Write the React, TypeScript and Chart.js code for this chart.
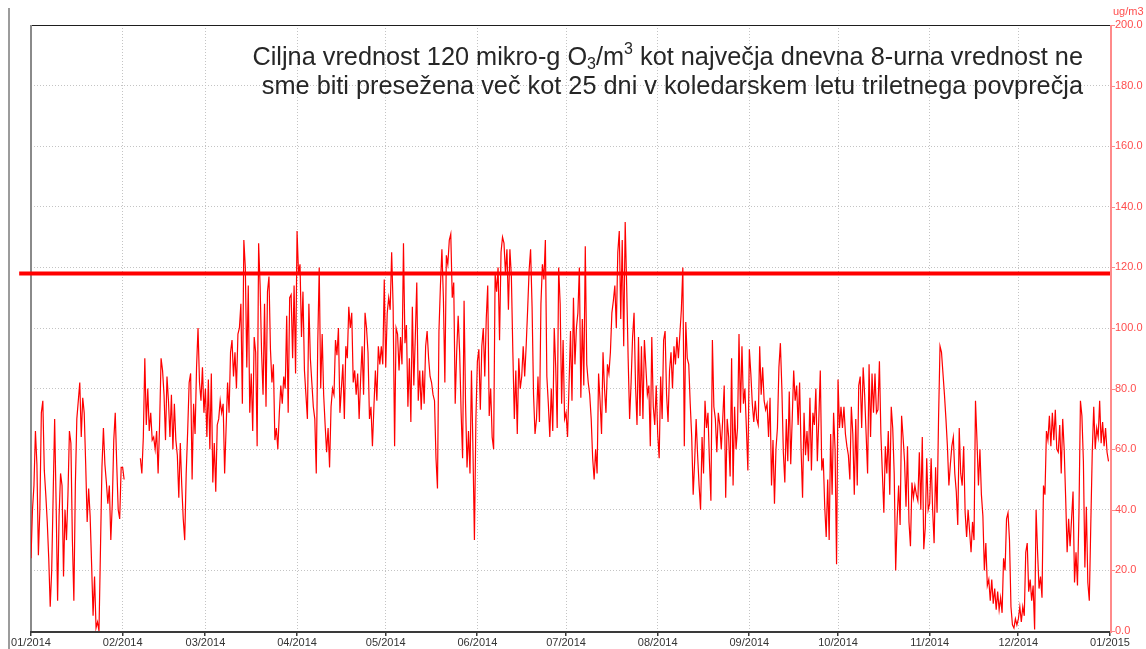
import React, { useEffect, useRef } from 'react';
import { Chart, registerables } from 'chart.js';

Chart.register(...registerables);

// ---- Axis / label data ----
const monthLabels = ['01/2014', '02/2014', '03/2014', '04/2014', '05/2014', '06/2014', '07/2014', '08/2014', '09/2014', '10/2014', '11/2014', '12/2014', '01/2015'];
const monthStartDays = [0, 31, 59, 90, 120, 151, 181, 212, 243, 273, 304, 334, 365];
const yMin = 0;
const yMax = 200;
const yStep = 20;
const unitLabel = 'ug/m3';
const targetValue = 118;
const targetSpanDays = [-4, 365];

const titleLine1 = [
  { t: 'Ciljna vrednost 120 mikro-g O', k: 'n' },
  { t: '3', k: 'sub' },
  { t: '/m', k: 'n' },
  { t: '3', k: 'sup' },
  { t: ' kot največja dnevna 8-urna vrednost ne', k: 'n' },
];
const titleLine2 = [{ t: 'sme biti presežena več kot 25 dni v koledarskem letu triletnega povprečja', k: 'n' }];

// ---- Series values (two readings per day, ug/m3) ----
const jan = [24, 40, 48, 66, 55, 25, 40, 72, 76, 53, 45, 36, 24, 8, 20, 45, 70, 42, 10, 38, 52, 48, 18, 40, 30, 45, 66, 62, 30, 10, 48, 70, 76, 82, 64, 77, 72, 55, 36, 47, 38, 22, 5, 18, 1, 3, 0, 27, 54, 67, 55, 49, 42, 48, 30, 42, 63, 72, 55, 40, 37, 54];
const feb = [54, 50, null, null, null, null, null, null, null, null, null, null, 57, 52, 64, 90, 68, 80, 66, 72, 63, 64, 60, 66, 52, 68, 90, 86, 78, 63, 84, 76, 64, 78, 60, 75, 63, 58, 44, 62, 48, 37, 30, 52, 66, 82, 85, 50, 75, 65, 87, 100, 82, 76, 87, 72];
const mar = [80, 64, 83, 60, 85, 49, 62, 46, 68, 70, 76, 72, 75, 52, 67, 82, 72, 92, 96, 84, 92, 80, 98, 100, 108, 75, 129, 120, 87, 114, 72, 85, 66, 97, 92, 61, 128, 114, 92, 78, 108, 74, 112, 117, 93, 82, 88, 63, 67, 60, 72, 81, 75, 84, 80, 104, 72, 110, 111, 90, 114, 85];
const apr = [132, 118, 121, 97, 112, 86, 78, 70, 108, 90, 82, 74, 70, 52, 95, 120, 80, 98, 78, 68, 59, 67, 54, 74, 80, 78, 96, 91, 100, 72, 80, 88, 70, 94, 90, 107, 100, 105, 82, 86, 78, 85, 70, 83, 94, 78, 105, 100, 92, 70, 74, 61, 74, 86, 76, 94, 88, 94, 88, 116];
const may = [87, 105, 110, 106, 125, 107, 61, 100, 98, 86, 97, 88, 128, 95, 101, 74, 90, 69, 107, 81, 97, 115, 76, 86, 73, 86, 75, 94, 99, 90, 84, 82, 78, 76, 57, 47, 99, 114, 126, 110, 82, 124, 121, 129, 131, 110, 115, 75, 92, 104, 92, 72, 57, 109, 75, 54, 66, 52, 86, 60, 30, 70];
const jun = [89, 93, 73, 94, 100, 84, 103, 114, 71, 80, 64, 60, 118, 112, 120, 96, 125, 130, 128, 118, 126, 106, 126, 117, 92, 70, 86, 65, 90, 80, 84, 94, 84, 94, 106, 119, 126, 107, 78, 65, 70, 84, 69, 108, 121, 116, 129, 84, 75, 64, 80, 66, 100, 87, 67, 120, 108, 75, 96, 70];
const jul = [72, 64, 81, 99, 76, 110, 88, 100, 105, 120, 77, 103, 81, 127, 88, 82, 78, 70, 57, 50, 60, 52, 85, 76, 65, 92, 80, 72, 88, 85, 92, 105, 109, 114, 100, 125, 132, 103, 129, 94, 135, 114, 90, 70, 82, 97, 105, 81, 68, 97, 71, 94, 70, 96, 87, 78, 81, 61, 97, 74, 68, 81];
const aug = [65, 57, 84, 70, 96, 99, 78, 69, 86, 92, 80, 94, 88, 97, 90, 98, 106, 120, 61, 102, 90, 88, 75, 64, 45, 56, 70, 58, 48, 40, 64, 52, 76, 67, 72, 56, 43, 96, 74, 70, 59, 72, 68, 60, 70, 81, 44, 70, 64, 51, 90, 48, 74, 60, 67, 98, 72, 94, 75, 80, 67, 53];
const sep = [93, 85, 75, 69, 76, 70, 68, 94, 78, 87, 76, 73, 75, 64, 77, 48, 63, 42, 60, 67, 87, 95, 80, 59, 49, 70, 56, 79, 55, 70, 86, 76, 81, 68, 82, 60, 44, 72, 58, 66, 56, 77, 53, 72, 68, 80, 56, 70, 86, 53, 57, 41, 31, 50, 30, 65, 45, 72, 60, 22];
const oct = [83, 67, 74, 67, 74, 65, 61, 58, 50, 74, 65, 45, 70, 48, 81, 84, 67, 87, 78, 65, 52, 88, 64, 85, 72, 85, 72, 73, 89, 65, 52, 39, 61, 52, 66, 45, 74, 67, 52, 20, 37, 48, 35, 71, 64, 56, 41, 61, 36, 28, 49, 44, 48, 45, 43, 59, 40, 64, 27, 34, 57, 40];
const nov = [42, 57, 40, 29, 54, 39, 70, 94, 92, 85, 78, 70, 61, 48, 55, 61, 64, 52, 46, 35, 67, 52, 48, 61, 39, 31, 40, 33, 26, 36, 30, 76, 63, 48, 60, 45, 38, 20, 29, 15, 17, 10, 17, 9, 14, 7, 13, 7, 11, 6, 24, 20, 37, 39, 30, 8, 2, 1, 4, 2];
const dec = [4, 8, 3, 8, 5, 26, 29, 13, 17, 10, 15, 0.5, 40, 26, 14, 18, 11, 48, 45, 66, 63, 71, 61, 72, 63, 73, 60, 59, 68, 52, 70, 60, 44, 26, 37, 28, 37, 46, 16, 26, 15, 39, 76, 71, 56, 21, 41, 16, 10, 35, 59, 74, 60, 67, 64, 76, 62, 69, 61, 67, 59, 56];

const FONT = '"Liberation Sans", Arial, Helvetica, sans-serif';

function drawRich(ctx: CanvasRenderingContext2D, segs: { t: string; k: string }[], rightX: number, baseline: number, size: number) {
  const small = Math.round(size * 0.62);
  const fontOf = (k: string) => `${k === 'n' ? size : small}px ${FONT}`;
  let total = 0;
  segs.forEach((s) => {
    ctx.font = fontOf(s.k);
    total += ctx.measureText(s.t).width;
  });
  let x = rightX - total;
  segs.forEach((s) => {
    ctx.font = fontOf(s.k);
    const dy = s.k === 'sub' ? size * 0.15 : s.k === 'sup' ? -size * 0.42 : 0;
    ctx.fillText(s.t, x, baseline + dy);
    x += ctx.measureText(s.t).width;
  });
}

export default function App() {
  const ref = useRef<HTMLCanvasElement>(null);

  useEffect(() => {
    const canvas = ref.current;
    if (!canvas) return;
    const months = [jan, feb, mar, apr, may, jun, jul, aug, sep, oct, nov, dec];
    const series: { x: number; y: number | null }[] = [];
    months.forEach((arr, m) => arr.forEach((v, i) => series.push({ x: monthStartDays[m] + i / 2, y: v })));
    const target = targetSpanDays.map((d) => ({ x: d, y: targetValue }));
    const yTicks: number[] = [];
    for (let v = yMin; v <= yMax; v += yStep) yTicks.push(v);

    const framePlugin = {
      id: 'frame',
      beforeDatasetsDraw(chart: any) {
        const { ctx, chartArea: a, scales } = chart;
        ctx.save();
        ctx.fillStyle = '#9c9c9c';
        ctx.fillRect(8, 8, 2, 641);
        ctx.fillStyle = '#1e1e1e';
        ctx.fillRect(a.left, a.top, a.right - a.left, 1);
        ctx.fillStyle = '#8a8a8a';
        ctx.fillRect(a.left - 1, a.top, 2, a.bottom - a.top);
        ctx.fillStyle = '#3a3a3a';
        ctx.fillRect(a.left - 1, a.bottom, a.right - a.left + 1, 2);
        scales.x.ticks.forEach((t: any) => {
          const px = Math.round(scales.x.getPixelForValue(t.value));
          ctx.fillRect(px - 1, a.bottom, 1.5, 5);
        });
        ctx.fillStyle = '#ff8a8a';
        ctx.fillRect(a.right, a.top, 2, a.bottom - a.top + 2);
        scales.y.ticks.forEach((t: any) => {
          const py = Math.round(scales.y.getPixelForValue(t.value));
          ctx.fillRect(a.right, py, 5, 1);
        });
        ctx.fillStyle = '#ff4d4d';
        ctx.font = `11px ${FONT}`;
        ctx.textAlign = 'left';
        ctx.textBaseline = 'middle';
        ctx.fillText(unitLabel, a.right + 3, 12);
        ctx.fillStyle = '#262626';
        ctx.textBaseline = 'alphabetic';
        drawRich(ctx, titleLine1, 1083, 65, 25.3);
        drawRich(ctx, titleLine2, 1083, 94, 25.3);
        ctx.restore();
      },
    };

    const chart = new Chart(canvas, {
      type: 'line',
      data: {
        datasets: [
          {
            data: series as any,
            borderColor: '#ff0000',
            borderWidth: 1.2,
            pointRadius: 0,
            tension: 0,
            spanGaps: false,
          },
          {
            data: target as any,
            borderColor: '#ff0000',
            borderWidth: 4,
            pointRadius: 0,
            clip: false as any,
          },
        ],
      },
      options: {
        animation: false,
        responsive: false,
        devicePixelRatio: 1,
        events: [],
        layout: { padding: { left: 31, top: 25, right: 0, bottom: 0 } },
        plugins: { legend: { display: false }, tooltip: { enabled: false }, title: { display: false } },
        scales: {
          x: {
            type: 'linear',
            min: monthStartDays[0],
            max: monthStartDays[monthStartDays.length - 1],
            afterBuildTicks: (scale: any) => {
              scale.ticks = monthStartDays.map((v) => ({ value: v }));
            },
            afterFit: (scale: any) => {
              scale.height = 18;
            },
            ticks: {
              autoSkip: false,
              maxRotation: 0,
              padding: 5,
              color: '#333333',
              font: { family: FONT, size: 11 },
              callback: (v: any) => monthLabels[monthStartDays.indexOf(Number(v))] ?? '',
            },
            grid: { color: '#c4c4c4', lineWidth: 1, drawTicks: false },
            border: { display: false, dash: [1, 2] },
          },
          y: {
            type: 'linear',
            position: 'right',
            min: yMin,
            max: yMax,
            afterBuildTicks: (scale: any) => {
              scale.ticks = yTicks.map((v) => ({ value: v }));
            },
            afterFit: (scale: any) => {
              scale.width = 36;
            },
            ticks: {
              padding: 5,
              color: '#ff4d4d',
              font: { family: FONT, size: 11 },
              callback: (v: any) => Number(v).toFixed(1),
            },
            grid: { color: '#c4c4c4', lineWidth: 1, drawTicks: false },
            border: { display: false, dash: [1, 2] },
          },
        },
      },
      plugins: [framePlugin],
    });

    return () => chart.destroy();
  }, []);

  return (
    <canvas
      ref={ref}
      width={1146}
      height={649}
      style={{ display: 'block', position: 'absolute', left: 0, top: 0, background: '#ffffff' }}
    />
  );
}
